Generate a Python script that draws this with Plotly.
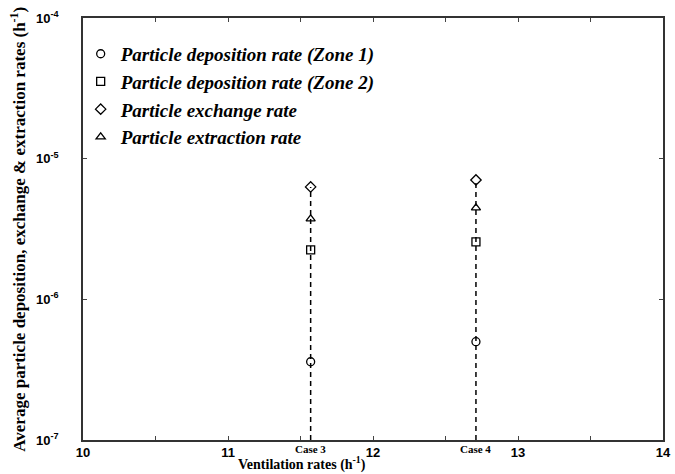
import plotly.graph_objects as go

# Ventilation cases (h^-1)
cases = ["Case 3", "Case 4"]
ventilation = [11.57, 12.71]

# Average rates (h^-1) for each case
deposition_zone1 = [3.6e-7, 5.0e-7]
deposition_zone2 = [2.25e-6, 2.56e-6]
exchange_rate = [6.3e-6, 7.06e-6]
extraction_rate = [3.73e-6, 4.47e-6]

x_tick_vals = [10, 10.5, 11, 11.5, 12, 12.5, 13, 13.5, 14]
x_tick_text = ["10", "", "11", "", "12", "", "13", "", "14"]
y_tick_vals = [1e-7, 1e-6, 1e-5, 1e-4]
y_tick_text = ["10<sup>-7</sup>", "10<sup>-6</sup>", "10<sup>-5</sup>", "10<sup>-4</sup>"]
y_floor = 1e-7

series = [
    ("Particle deposition rate (Zone 1)", deposition_zone1, "circle-open"),
    ("Particle deposition rate (Zone 2)", deposition_zone2, "square-open"),
    ("Particle exchange rate", exchange_rate, "diamond-open"),
    ("Particle extraction rate", extraction_rate, "triangle-up-open"),
]

fig = go.Figure()

# dashed stems from the axis floor up to the highest rate of each case
for i, xv in enumerate(ventilation):
    top = max(s[1][i] for s in series)
    fig.add_trace(go.Scatter(
        x=[xv, xv], y=[y_floor, top], mode="lines",
        line=dict(color="black", width=1.5, dash="5px,4px"),
        showlegend=False, hoverinfo="skip",
    ))

for k, (name, vals, sym) in enumerate(series):
    fig.add_trace(go.Scatter(
        x=ventilation, y=vals, mode="markers", name=name,
        legendgroup=str(k),
        marker=dict(symbol=sym, size=8, color="black",
                    line=dict(color="black", width=1.3)),
    ))

serif = "Liberation Serif"
sans = "Liberation Sans"

fig.update_layout(
    width=675, height=474,
    margin=dict(l=83, r=12, t=18, b=34),
    paper_bgcolor="white", plot_bgcolor="white",
    showlegend=True,
    legend=dict(
        x=-0.004, y=0.96, xanchor="left", yanchor="top",
        bgcolor="rgba(0,0,0,0)", tracegroupgap=0,
        font=dict(family=serif, size=19, color="black", style="italic", weight="bold"),
        itemwidth=30,
    ),
    xaxis=dict(
        range=[10, 14], tickvals=x_tick_vals, ticktext=x_tick_text,
        ticks="inside", ticklen=4, tickcolor="#444", tickwidth=1,
        showline=True, linecolor="#333", linewidth=1.5, mirror="allticks",
        showgrid=False, zeroline=False, automargin=False,
        tickfont=dict(family=sans, size=13, color="black", weight="bold"),
    ),
    yaxis=dict(
        type="log", range=[-7, -4], tickvals=y_tick_vals, ticktext=y_tick_text,
        ticks="inside", ticklen=4, tickcolor="#444", tickwidth=1,
        showline=True, linecolor="#333", linewidth=1.5, mirror="allticks",
        showgrid=False, zeroline=False, ticklabelstandoff=20, automargin=False,
        tickfont=dict(family=sans, size=13, color="black", weight="bold"),
    ),
)

annotations = []
for name, xv in zip(cases, ventilation):
    annotations.append(dict(
        x=xv, y=0, xref="x", yref="paper", yanchor="top", yshift=-1,
        text=name, showarrow=False,
        font=dict(family=serif, size=11, color="black", weight="bold"),
    ))
annotations.append(dict(
    x=0.378, y=-0.082, xref="paper", yref="paper", yanchor="bottom",
    text="Ventilation rates (h<sup>-1</sup>)", showarrow=False,
    font=dict(family=serif, size=14, color="black", weight="bold"),
))
annotations.append(dict(
    x=-0.135, y=0.5, xref="paper", yref="paper", textangle=-90,
    text="Average particle deposition, exchange &amp; extraction rates (h<sup>-1</sup>)",
    showarrow=False,
    font=dict(family=serif, size=17, color="black", weight="bold"),
))
fig.update_layout(annotations=annotations)

fig.write_html("out.html")
